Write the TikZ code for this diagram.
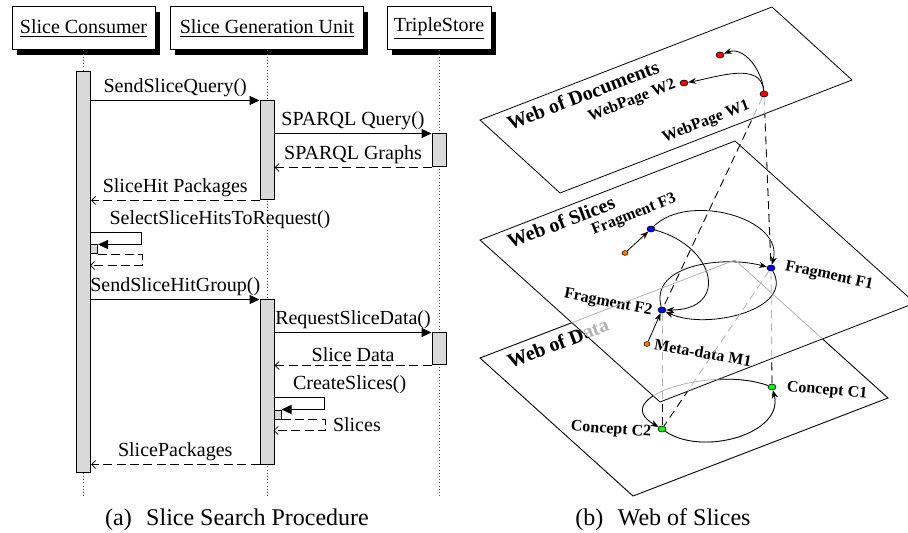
\documentclass[tikz,border=0pt]{standalone}
\usepackage{fontspec}
\setmainfont{Liberation Serif}
\usetikzlibrary{arrows.meta,shapes.geometric,shadows}

% what lies on the web of data (drawn twice: hidden part grey, visible part black)
\newcommand{\datalayer}{%
 \draw (480,-358) -- (735,-260) -- (888,-398) -- (633,-496) -- cycle;
 \node[plbl,rotate=21] (datalbl) at (558,-343) {Web of Data};
 \draw[link] (c2) to[out=-35,in=-75] (c1);
 \draw[link] (c1) to[out=160,in=150,looseness=1.3] (c2);
 \draw[vlink] (f2) -- (c2);
 \draw[vlink] (f1) -- (c2);
 \draw[vlink] (f1) -- (c1);
}

\begin{document}
\begin{tikzpicture}[x=0.5pt,y=0.5pt,
 seqhead/.style={draw,fill=white,line width=0.5pt,minimum width=#1,minimum height=21.5pt,inner sep=0pt,
  drop shadow={shadow xshift=2.3pt,shadow yshift=-2.3pt,fill=black,opacity=1},
  font=\fontsize{10}{12}\selectfont},
 lifeline/.style={line width=0.4pt,dash pattern=on 0.4pt off 1.2pt,black!70},
 actbar/.style={draw,fill=black!15,line width=0.5pt,minimum width=7pt,minimum height=#1,inner sep=0pt},
 callmsg/.style={line width=0.5pt,-{Triangle[length=5pt,width=4.5pt]}},
 replymsg/.style={line width=0.5pt,dash pattern=on 4.5pt off 2.2pt,
  -{Straight Barb[length=2pt,width=4pt,line width=0.4pt]}},
 msglbl/.style={font=\fontsize{10}{12}\selectfont,inner sep=1.5pt},
 webdot/.style={ellipse,draw,fill=#1,line width=0.3pt,minimum width=4pt,minimum height=3pt,inner sep=0pt},
 smalldot/.style={ellipse,draw,fill=#1,line width=0.3pt,minimum width=3pt,minimum height=2.4pt,inner sep=0pt},
 plbl/.style={font=\fontsize{10}{12}\selectfont\bfseries,inner sep=0pt},
 dlbl/.style={font=\fontsize{8}{9.6}\selectfont\bfseries,inner sep=0pt},
 link/.style={line width=0.4pt,-{Stealth[length=4pt,width=3pt]}},
 vlink/.style={line width=0.4pt,dash pattern=on 4pt off 2.5pt},
 caption/.style={font=\fontsize{12}{14}\selectfont}]
 \useasboundingbox (0,0) rectangle (908,-533);

 % (a) sequence diagram
 \node[seqhead=71.5pt] (consumer) at (83.5,-28.5) {\underline{Slice Consumer}};
 \node[seqhead=96.5pt] (sgu) at (267,-28.5) {\underline{Slice Generation Unit}};
 \node[seqhead=52pt] (store) at (439,-28.5) {\underline{TripleStore}};
 \coordinate (consumer-end) at (83.5,-497);
 \coordinate (sgu-end) at (267,-497);
 \coordinate (store-end) at (439,-497);
 \draw[lifeline] (consumer.south) -- (consumer-end);
 \draw[lifeline] (sgu.south) -- (sgu-end);
 \draw[lifeline] (store.south) -- (store-end);

 \node[actbar=200pt] (consumerbar) at (83.5,-272) {};
 \node[actbar=49.5pt] (sgubar1) at (267,-150.5) {};
 \node[actbar=16.5pt] (storebar1) at (439,-150.5) {};
 \node[actbar=4.5pt,minimum width=3.5pt] (consumerself) at (94,-249.5) {};
 \node[actbar=82pt] (sgubar2) at (267,-382) {};
 \node[actbar=16pt] (storebar2) at (439,-349) {};
 \node[actbar=4.5pt,minimum width=3.5pt] (sguself) at (277.5,-414.5) {};

 \draw[callmsg] (consumerbar.east |- sgubar1.north) -- (sgubar1.north west)
  node[msglbl,midway,above] {SendSliceQuery()};
 \draw[callmsg] (sgubar1.east |- storebar1.north) -- (storebar1.north west)
  node[msglbl,midway,above] {SPARQL Query()};
 \draw[replymsg] (storebar1.south west) -- (sgubar1.east |- storebar1.south)
  node[msglbl,midway,above] {SPARQL Graphs};
 \draw[replymsg] (sgubar1.south west) -- (consumerbar.east |- sgubar1.south)
  node[msglbl,midway,above] {SliceHit Packages};
 \draw[callmsg] ([yshift=6pt]consumerself.north west)
  node[msglbl,anchor=south west,xshift=8pt] {SelectSliceHitsToRequest()}
  -- ++(51,0) |- (consumerself.north east);
 \draw[replymsg] (consumerself.south east) -- ++(44,0) |- ([yshift=-5.5pt]consumerself.south west);
 \draw[callmsg] (consumerbar.east |- sgubar2.north) -- (sgubar2.north west)
  node[msglbl,midway,above] {SendSliceHitGroup()};
 \draw[callmsg] (sgubar2.east |- storebar2.north) -- (storebar2.north west)
  node[msglbl,midway,above] {RequestSliceData()};
 \draw[replymsg] (storebar2.south west) -- (sgubar2.east |- storebar2.south)
  node[msglbl,midway,above] {Slice Data};
 \draw[callmsg] ([yshift=6pt]sguself.north west)
  node[msglbl,anchor=south west,xshift=8pt] {CreateSlices()}
  -- ++(51,0) |- (sguself.north east);
 \draw[replymsg] (sguself.south east) -- ++(44,0) |- ([yshift=-5.5pt]sguself.south west)
  node[msglbl,pos=0.25,right,xshift=2pt] {Slices};
 \draw[replymsg] (sgubar2.south west) -- (consumerbar.east |- sgubar2.south)
  node[msglbl,midway,above] {SlicePackages};

 \node[caption] (capa) at (237,-520) {(a)\hspace{0.6em}Slice Search Procedure};

 % (b) the three layers
 \draw[line width=0.4pt] (480,-120) -- (772,-7) -- (852,-80) -- (560,-193) -- cycle;
 \draw[line width=0.4pt] (480,-240) -- (735,-141) -- (915,-303) -- (660,-402) -- cycle;

 \node[webdot=red] (w1) at (764,-94) {};
 \node[webdot=red] (w2) at (684,-83) {};
 \node[webdot=red] (w3) at (720,-55) {};
 \node[webdot=blue] (f1) at (771,-268) {};
 \node[webdot=blue] (f2) at (662,-310) {};
 \node[webdot=blue] (f3) at (651,-229) {};
 \node[smalldot=orange] (o1) at (625,-253) {};
 \node[smalldot=orange] (m1) at (647,-344) {};
 \node[webdot=green] (c1) at (772,-387) {};
 \node[webdot=green] (c2) at (662,-429) {};

 \node[plbl,rotate=21] (docslbl) at (583,-95) {Web of Documents};
 \node[dlbl,rotate=21] (w2lbl) at (632,-101) {WebPage W2};
 \node[dlbl,rotate=21] (w1lbl) at (706,-122) {WebPage W1};
 \node[plbl,rotate=21] (sliceslbl) at (561,-222) {Web of Slices};
 \node[dlbl,rotate=22] (f3lbl) at (634,-215) {Fragment F3};
 \node[dlbl,rotate=-12] (f1lbl) at (829,-276) {Fragment F1};
 \node[dlbl,rotate=-11] (f2lbl) at (608,-303) {Fragment F2};
 \node[dlbl,rotate=-10] (m1lbl) at (703,-353) {Meta-data M1};
 \node[dlbl,rotate=-5] (c1lbl) at (827,-391) {Concept C1};
 \node[dlbl,rotate=-4] (c2lbl) at (611,-430) {Concept C2};

 \draw[link] (w1) to[out=95,in=10] (w2);
 \draw[link] (w1) to[out=95,in=20] (w3);
 \draw[link] (f3) to[out=45,in=75] (f1);
 \draw[link] (f3) to[out=-15,in=0,looseness=2] (f2);
 \draw[link] (f2) to[out=105,in=165] (f1);
 \draw[link] (f1) to[out=-60,in=-25] (f2);
 \draw[link] (o1) -- (f3);
 \draw[link] (m1) -- (f2);

 % hidden parts
 \begin{scope}[black!30]
  \datalayer
  \draw[vlink] (w1) -- (f1);
  \draw[vlink] (w1) -- (f2);
 \end{scope}
 \begin{scope}
  \clip (470,-120) -- (480,-120) -- (560,-193) -- (852,-80) -- (920,-80) -- (920,-540) -- (470,-540) -- cycle;
  \draw[vlink] (w1) -- (f1);
  \draw[vlink] (w1) -- (f2);
 \end{scope}
 \begin{scope}
  \clip (470,-240) -- (480,-240) -- (660,-402) -- (915,-303) -- (920,-303) -- (920,-540) -- (470,-540) -- cycle;
  \datalayer
 \end{scope}

 \node[caption] (capb) at (663,-520) {(b)\hspace{0.6em}Web of Slices};
\end{tikzpicture}
\end{document}
